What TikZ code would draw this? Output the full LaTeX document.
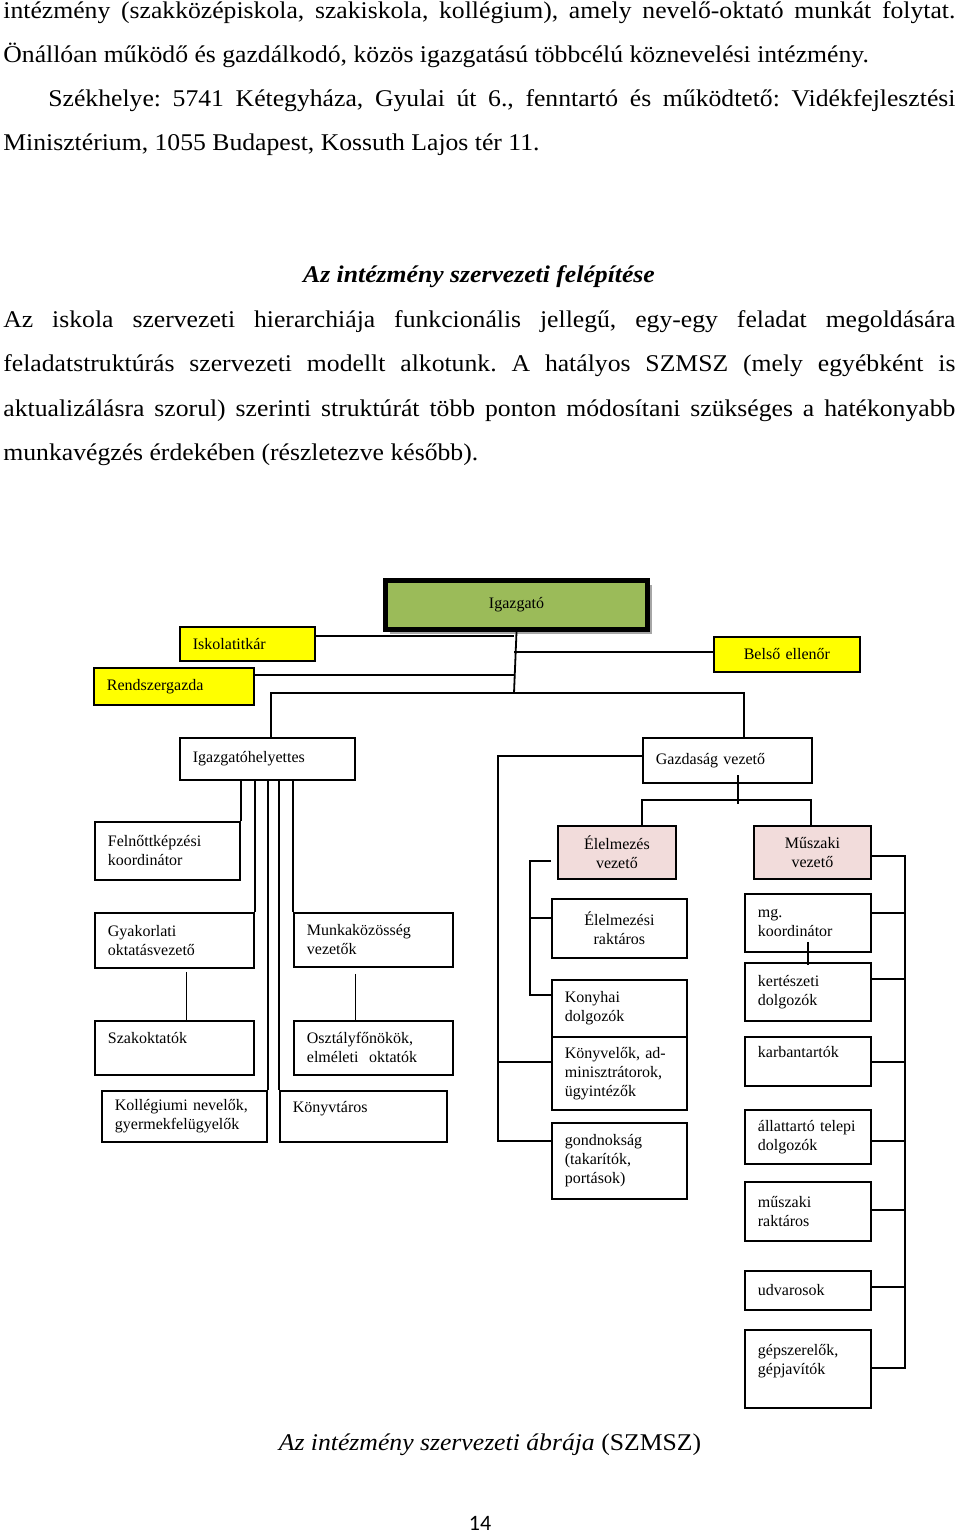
\documentclass[tikz,border=0pt]{standalone}
\usepackage{fontspec}
\setmainfont{Liberation Serif}
\newfontfamily\bodyfont[FakeStretch=1.07]{Liberation Serif}
\newfontfamily\pagenumfont{Carlito}
\usetikzlibrary{shadows}
\frenchspacing

\definecolor{headgreen}{HTML}{9BBB59}
\definecolor{staffyellow}{HTML}{FFFF00}
\definecolor{unitpink}{HTML}{F2DCDB}

\tikzset{
  bodytext/.style={anchor=base west, inner sep=0pt, font=\bodyfont\fontsize{12}{14}\selectfont},
  orgbox/.style={draw, line width=0.9pt, anchor=north west, inner xsep=6.5pt, inner ysep=0pt,
    font=\fontsize{8}{9.5}\selectfont, align=left},
  boxsize/.code 2 args={\pgfmathsetlengthmacro\boxw{#1*0.5pt-13pt}%
    \tikzset{minimum width=#1*0.5pt, minimum height=#2*0.5pt, text width=\boxw}},
  headbox/.style={orgbox, line width=2.5pt, fill=headgreen, align=center,
    drop shadow={shadow xshift=2pt, shadow yshift=-2pt, fill=black!35, opacity=1}},
  staffbox/.style={orgbox, fill=staffyellow},
  unitbox/.style={orgbox, fill=unitpink, align=center},
  link/.style={line width=0.9pt}
}

\begin{document}
\begin{tikzpicture}[x=0.5pt,y=-0.5pt]
  \fill[white] (0,0) rectangle (960,1534);
  \useasboundingbox (0,0) rectangle (960,1534);

  % text above the chart
  \node[bodytext] (intro1) at (3,19) {\makebox[476pt][s]{intézmény (szakközépiskola, szakiskola, kollégium), amely nevelő-oktató munkát folytat.}};
  \node[bodytext] (intro2) at (3,63) {Önállóan működő és gazdálkodó, közös igazgatású többcélú köznevelési intézmény.};
  \node[bodytext] (intro3) at (48,107) {\makebox[453.5pt][s]{Székhelye: 5741 Kétegyháza, Gyulai út 6., fenntartó és működtető: Vidékfejlesztési}};
  \node[bodytext] (intro4) at (3,151) {Minisztérium, 1055 Budapest, Kossuth Lajos tér 11.};
  \node[bodytext, anchor=base] (title) at (479,283) {\textbf{\textit{Az intézmény szervezeti felépítése}}};
  \node[bodytext] (para1) at (3,328) {\makebox[476pt][s]{Az iskola szervezeti hierarchiája funkcionális jellegű, egy-egy feladat megoldására}};
  \node[bodytext] (para2) at (3,372) {\makebox[476pt][s]{feladatstruktúrás szervezeti modellt alkotunk. A hatályos SZMSZ (mely egyébként is}};
  \node[bodytext] (para3) at (3,416) {\makebox[476pt][s]{aktualizálásra szorul) szerinti struktúrát több ponton módosítani szükséges a hatékonyabb}};
  \node[bodytext] (para4) at (3,460) {munkavégzés érdekében (részletezve később).};

  % top level
  \node[headbox, boxsize={262}{49}] (igz) at (383,578) {Igazgató};
  \node[staffbox, boxsize={135}{34}] (isk) at (179,626) {Iskolatitkár};
  \node[staffbox, boxsize={160}{37}] (rsz) at (93,667) {Rendszergazda};
  \node[staffbox, boxsize={146}{35}, align=center] (bel) at (713,636) {Belső ellenőr};
  \node[orgbox, boxsize={175}{42}] (igh) at (179,737) {Igazgatóhelyettes};
  \node[orgbox, boxsize={169}{45}] (gaz) at (642,737) {Gazdaság vezető};

  % pedagogical side
  \node[orgbox, boxsize={145}{58}] (feln) at (94,821) {Felnőttképzési\\koordinátor};
  \node[orgbox, boxsize={159}{55}] (gyak) at (94,912) {Gyakorlati\\oktatásvezető};
  \node[orgbox, boxsize={159}{54}] (szak) at (94,1020) {Szakoktatók\\~};
  \node[orgbox, boxsize={159}{54}] (munk) at (293,912) {Munkaközösség\\vezetők};
  \node[orgbox, boxsize={159}{54}] (oszt) at (293,1020) {Osztályfőnökök,\\elméleti~ oktatók};
  \node[orgbox, boxsize={165}{51}] (koll) at (101,1090) {Kollégiumi nevelők,\\gyermekfelügyelők};
  \node[orgbox, boxsize={167}{51}] (knyt) at (279,1090) {Könyvtáros\\~};

  % economic side
  \node[unitbox, boxsize={118}{53}] (elv) at (557,825) {Élelmezés\\vezető};
  \node[unitbox, boxsize={117}{53}] (muv) at (753,825) {Műszaki\\vezető};
  \node[orgbox, boxsize={135}{59}, align=center] (elr) at (551,898) {Élelmezési\\raktáros};
  \node[orgbox, boxsize={135}{57}] (kony) at (551,979) {Konyhai\\dolgozók};
  \node[orgbox, boxsize={135}{73}] (konyv) at (551,1036) {Könyvelők, ad-\\minisztrátorok,\\ügyintézők};
  \node[orgbox, boxsize={135}{76}] (gond) at (551,1122) {gondnokság\\(takarítók,\\portások)};
  \node[orgbox, boxsize={126}{58}] (mg) at (744,893) {mg.\\koordinátor};
  \node[orgbox, boxsize={126}{58}] (kert) at (744,962) {kertészeti\\dolgozók};
  \node[orgbox, boxsize={126}{49}] (karb) at (744,1036) {karbantartók\\~};
  \node[orgbox, boxsize={126}{54}] (allat) at (744,1109) {állattartó telepi\\dolgozók};
  \node[orgbox, boxsize={126}{59}] (msr) at (744,1181) {műszaki\\raktáros};
  \node[orgbox, boxsize={126}{39}] (udv) at (744,1270) {udvarosok};
  \node[orgbox, boxsize={126}{78}] (gep) at (744,1329) {gépszerelők,\\gépjavítók\\~};

  % junctions
  \coordinate (trunk) at (514,693);
  \coordinate (j1) at (514,636);
  \coordinate (j2) at (514,675);
  \coordinate (j3) at (514,652);
  \coordinate (bl) at (271,693);
  \coordinate (br) at (744,693);
  \coordinate (gt) at (738,775);
  \coordinate (gm) at (738,804);
  \coordinate (gl) at (642,800);
  \coordinate (gr) at (811,800);
  \coordinate (sup) at (498,756);
  \coordinate (s1) at (498,1062);
  \coordinate (s2) at (498,1141);
  \coordinate (e0) at (530,861);
  \coordinate (e1) at (530,918);
  \coordinate (e2) at (530,995);
  \coordinate (m0) at (905,856);
  \coordinate (m7) at (905,1368);

  \draw[link] (igz.south) -- (trunk);
  \draw[link] (isk.east |- j1) -- (j1);
  \draw[link] (rsz.east |- j2) -- (j2);
  \draw[link] (j3) -- (bel.west |- j3);
  \draw[link] (igh.north -| bl) -- (bl) -- (br) -- (gaz.north -| br);

  \draw[link] (igh.south -| feln.east) -- (feln.north east);
  \draw[link] (igh.south -| gyak.east) -- (gyak.north east);
  \draw[link] (igh.south -| koll.east) -- (koll.north east);
  \draw[link] (igh.south -| knyt.west) -- (knyt.north west);
  \draw[link] (igh.south -| munk.west) -- (munk.north west);
  \draw[link] ([xshift=6pt,yshift=-1.5pt]gyak.south) -- ([xshift=6pt]szak.north);
  \draw[link] ([xshift=-9pt,yshift=-3pt]munk.south) -- ([xshift=-9pt]oszt.north);

  \draw[link] (gt) -- (gm);
  \draw[link] (elv.north -| gl) -- (gl) -- (gr) -- (muv.north -| gr);
  \draw[link] (gaz.west |- sup) -- (sup) -- (s2) -- (gond.west |- s2);
  \draw[link] (s1) -- (konyv.west |- s1);
  \draw[link] (elr.west |- e0) -- (e0) -- (e2) -- (kony.west |- e2);
  \draw[link] (e1) -- (elr.west |- e1);

  \draw[link] (muv.east |- m0) -- (m0) -- (m7) -- (gep.east |- m7);
  \foreach \n/\y in {mg/913, kert/979, karb/1062, allat/1141, msr/1210, udv/1287}
    \draw[link] (\n.east |- 0,\y) -- (905,\y);
  \draw[link] ([yshift=5.5pt]mg.south) -- ([yshift=-1.5pt]kert.north);

  % caption and page number
  \node[bodytext, anchor=base] (caption) at (490,1450) {\textit{Az intézmény szervezeti ábrája} (SZMSZ)};
  \node[bodytext, anchor=base, font=\pagenumfont\fontsize{11}{13}\selectfont] (pagenum) at (480,1530) {14};
\end{tikzpicture}
\end{document}
